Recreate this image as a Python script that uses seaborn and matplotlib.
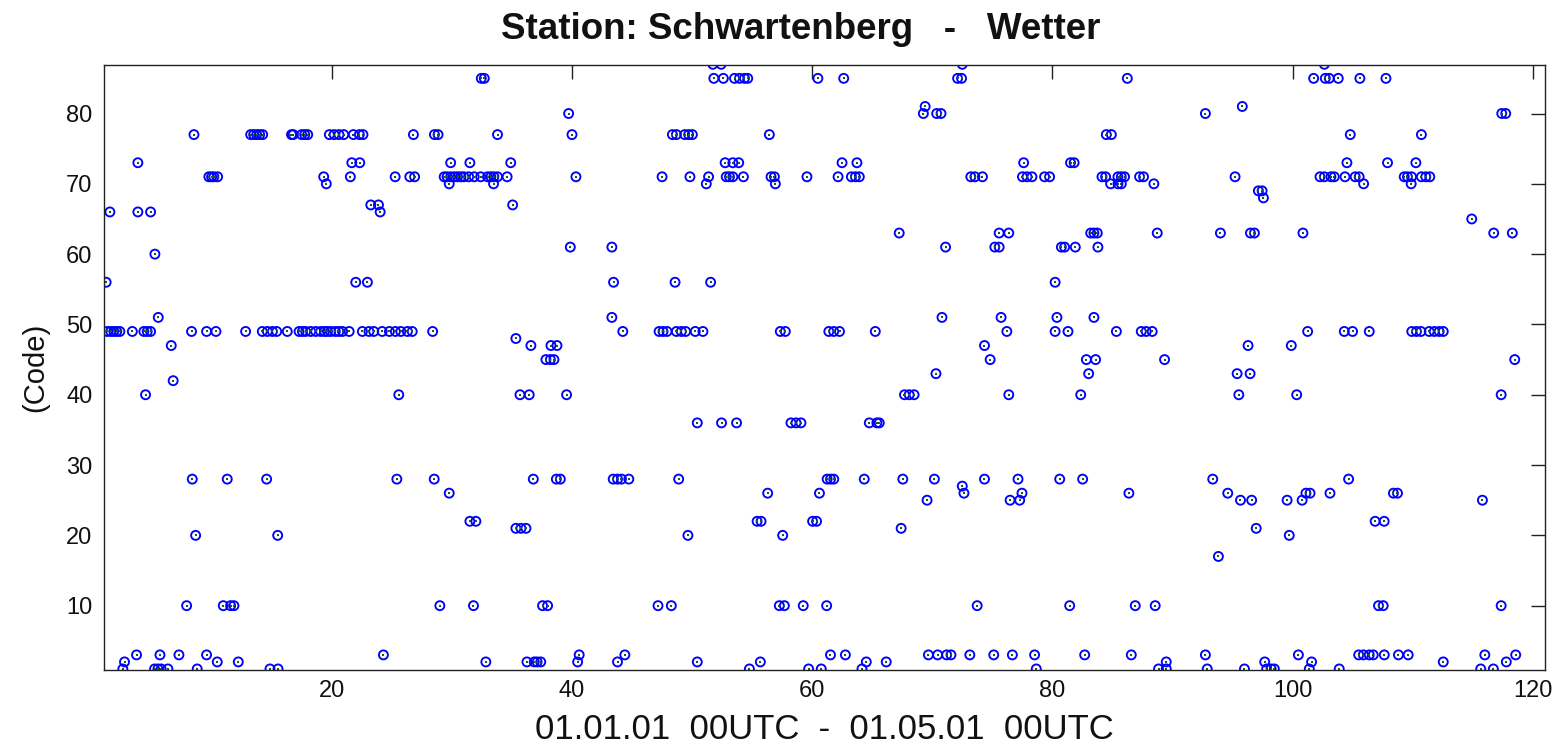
import numpy as np
import pandas as pd
import matplotlib
matplotlib.use("Agg")
import matplotlib.pyplot as plt
import seaborn as sns

# ---- data: day positions (x) for each weather code (y) ----
code_87 = [51.73, 52.42, 72.49, 102.63]
code_85 = [32.45, 32.7, 51.81, 52.6, 53.53, 53.94, 54.36, 54.63, 60.47, 62.62, 72.1, 72.43,
           86.23, 101.74, 102.71, 103.04, 103.79, 105.59, 107.76]
code_81 = [69.4, 95.8]
code_80 = [39.72, 69.25, 70.36, 70.72, 92.73, 117.4, 117.73]
code_77 = [8.53, 13.25, 13.5, 13.75, 14.0, 14.25, 16.65, 16.8, 17.5, 17.75, 18.0, 19.8, 20.2,
           20.6, 21.0, 21.8, 22.3, 22.6, 26.8, 28.55, 28.85, 33.8, 40.0, 48.36, 48.69, 49.38,
           49.71, 50.02, 56.43, 84.48, 84.9, 104.79, 110.71]
code_73 = [3.86, 21.67, 22.33, 29.9, 31.5, 34.9, 52.75, 53.39, 53.88, 62.48, 63.72, 77.6, 81.5,
           81.8, 104.51, 107.89, 110.25]
code_71 = [9.77, 10.0, 10.19, 10.5, 19.33, 21.55, 25.28, 26.5, 26.9, 29.36, 29.6, 29.9, 30.2,
           30.47, 30.75, 31.0, 31.4, 31.86, 32.4, 32.97, 33.25, 33.5, 33.8, 34.6, 40.33, 47.5,
           49.82, 51.37, 52.84, 53.11, 53.39, 54.27, 56.57, 56.85, 59.56, 62.15, 63.26, 63.59,
           63.92, 73.2, 73.54, 74.17, 77.5, 77.88, 78.29, 79.34, 79.76, 84.12, 84.42, 85.45,
           85.73, 86.0, 87.25, 87.58, 95.2, 102.27, 102.63, 103.18, 103.46, 104.35, 105.2,
           105.53, 109.28, 109.55, 109.89, 110.71, 111.08, 111.41]
code_70 = [19.55, 29.78, 33.47, 51.18, 56.93, 84.84, 85.45, 85.73, 88.44, 105.9, 109.86]
code_69 = [97.14, 97.45]
code_68 = [97.56]
code_67 = [23.25, 23.89, 35.06]
code_66 = [1.53, 3.86, 4.92, 24.03]
code_65 = [114.9]
code_63 = [67.24, 75.56, 76.36, 83.18, 83.45, 83.73, 88.72, 93.98, 96.48, 96.81, 100.85,
           116.73, 118.28]
code_61 = [39.86, 43.32, 71.1, 75.2, 75.56, 80.74, 81.01, 81.9, 83.78]
code_60 = [5.28]
code_56 = [1.22, 22.0, 22.97, 43.46, 48.58, 51.54, 80.22]
code_51 = [5.56, 43.32, 70.8, 75.72, 80.37, 83.45]
code_49 = [1.31, 1.6, 1.86, 2.1, 2.36, 3.4, 4.36, 4.64, 4.92, 8.33, 9.58, 10.36, 12.83, 14.22,
           14.64, 15.06, 15.42, 16.3, 17.28, 17.56, 17.83, 18.25, 18.67, 19.08, 19.4, 19.64,
           19.92, 20.3, 20.6, 20.9, 21.45, 22.55, 23.1, 23.5, 24.2, 24.8, 25.3, 25.75, 26.3,
           26.7, 28.4, 44.23, 47.25, 47.58, 47.91, 48.69, 49.1, 49.46, 50.26, 50.9, 57.34,
           57.76, 61.38, 61.79, 62.27, 65.25, 76.2, 80.22, 81.29, 85.32, 87.39, 87.8, 88.3,
           101.24, 104.29, 104.98, 106.37, 109.91, 110.3, 110.67, 111.36, 111.78, 112.19, 112.53]
code_48 = [35.33]
code_47 = [6.64, 36.58, 38.25, 38.75, 74.34, 96.28, 99.88]
code_45 = [37.83, 38.2, 38.5, 74.81, 82.82, 83.59, 89.33, 118.48]
code_43 = [70.3, 83.01, 95.37, 96.45]
code_42 = [6.8]
code_40 = [4.5, 25.58, 35.67, 36.44, 39.55, 67.68, 68.07, 68.48, 76.36, 82.35, 95.51, 100.33,
           117.35]
code_36 = [50.43, 52.45, 53.7, 58.23, 58.65, 59.06, 64.75, 65.38, 65.58]
code_28 = [8.39, 11.3, 14.58, 25.42, 28.53, 36.78, 38.7, 39.03, 43.43, 43.79, 44.12, 44.73,
           48.88, 61.24, 61.52, 61.79, 64.33, 67.54, 70.17, 74.34, 77.13, 80.6, 82.51, 93.34,
           104.65]
code_27 = [72.49]
code_26 = [29.78, 56.29, 60.6, 72.63, 77.46, 86.36, 94.59, 101.1, 101.44, 103.1, 108.38, 108.72]
code_25 = [69.56, 76.47, 77.27, 95.65, 96.58, 99.53, 100.78, 115.79]
code_22 = [31.5, 32.0, 55.41, 55.74, 60.03, 60.36, 106.86, 107.61]
code_21 = [35.33, 35.75, 36.17, 67.4, 96.96]
code_20 = [8.67, 15.5, 49.65, 57.54, 99.71]
code_17 = [93.81]
code_10 = [7.92, 10.97, 11.58, 11.86, 29.0, 31.8, 37.55, 37.97, 47.16, 48.27, 57.26, 57.68,
           59.25, 61.2, 73.73, 81.43, 86.89, 88.55, 107.14, 107.53, 117.35]
code_3 = [3.75, 5.7, 7.28, 9.58, 24.3, 40.6, 44.4, 61.52, 62.76, 69.67, 70.44, 71.19, 71.55,
          73.12, 75.11, 76.66, 78.51, 82.68, 86.56, 92.73, 100.47, 105.49, 105.88, 106.37,
          106.7, 107.62, 108.8, 109.61, 115.99, 118.56]
code_2 = [2.75, 10.47, 12.22, 32.83, 36.25, 36.86, 37.1, 37.4, 40.47, 43.79, 50.43, 55.68,
          64.5, 66.16, 89.47, 97.67, 101.57, 112.53, 117.78]
code_1 = [2.61, 5.25, 5.53, 5.8, 6.36, 8.8, 14.86, 15.53, 54.77, 59.7, 60.75, 64.14, 78.65,
          88.83, 89.47, 92.88, 95.98, 97.83, 98.2, 98.47, 101.38, 103.87, 115.65, 116.7]

x_ticks = [20, 40, 60, 80, 100, 120]
y_ticks = [10, 20, 30, 40, 50, 60, 70, 80]
title_text = "Station: Schwartenberg   -   Wetter"
x_label = "01.01.01  00UTC  -  01.05.01  00UTC"
y_label = "(Code)"

rows = {87: code_87, 85: code_85, 81: code_81, 80: code_80, 77: code_77, 73: code_73,
        71: code_71, 70: code_70, 69: code_69, 68: code_68, 67: code_67, 66: code_66,
        65: code_65, 63: code_63, 61: code_61, 60: code_60, 56: code_56, 51: code_51,
        49: code_49, 48: code_48, 47: code_47, 45: code_45, 43: code_43, 42: code_42,
        40: code_40, 36: code_36, 28: code_28, 27: code_27, 26: code_26, 25: code_25,
        22: code_22, 21: code_21, 20: code_20, 17: code_17, 10: code_10, 3: code_3,
        2: code_2, 1: code_1}
df = pd.DataFrame([(d, c) for c, days in rows.items() for d in days], columns=["day", "code"])

sns.set_theme(style="white")
plt.rcParams["font.family"] = ["Liberation Sans", "DejaVu Sans"]

fig = plt.figure(figsize=(15.63, 7.53), dpi=100)
ax = fig.add_axes([103.5 / 1563, 1 - 670 / 753, (1545 - 103.5) / 1563, (670 - 65) / 753])

sns.scatterplot(data=df, x="day", y="code", ax=ax, marker="o", s=42,
                facecolor="none", edgecolor="#0000ff", linewidth=1.35, legend=False)
sns.scatterplot(data=df, x="day", y="code", ax=ax, marker="s", s=1.3,
                color="#1e5a1e", linewidth=0, legend=False)

ax.set_xlim(1, 121)
ax.set_ylim(0.85, 86.9)
ax.set_xticks(x_ticks)
ax.set_yticks(y_ticks)
ax.tick_params(direction="in", length=10, width=1.0, color="#222222",
               top=True, right=True, labelsize=17, labelcolor="#111111")
ax.tick_params(axis="x", pad=7)
ax.tick_params(axis="y", pad=8)
for sp in ax.spines.values():
    sp.set_color("#222222")
    sp.set_linewidth(1.0)
    sp.set_visible(True)

ax.set_xlabel(x_label, fontsize=25, color="#111111", labelpad=8)
ax.set_ylabel(y_label, fontsize=21, color="#111111", labelpad=12)
fig.text(801 / 1563, 1 - 12 / 753, title_text, ha="center", va="top",
         fontsize=26.5, fontweight="bold", color="#111111")

fig.savefig("out.png", dpi=100, facecolor="white")
